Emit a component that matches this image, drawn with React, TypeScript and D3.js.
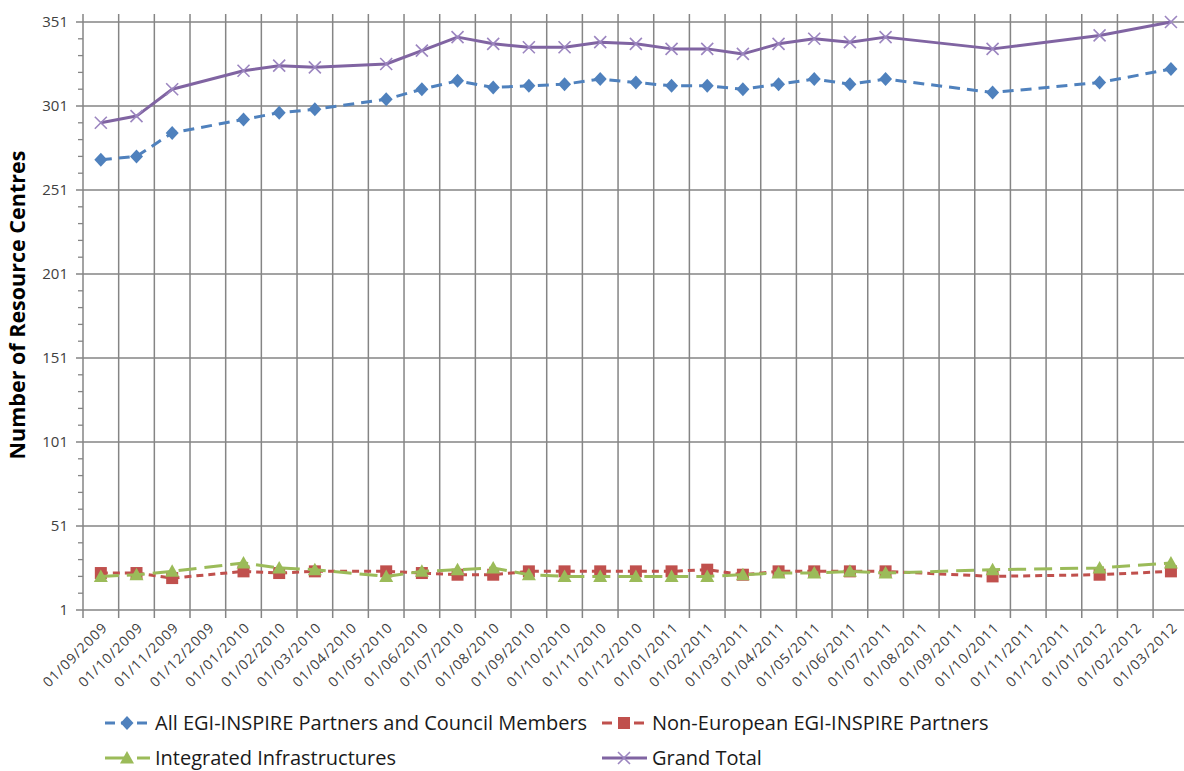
import React from "react";
import * as d3 from "d3";

// month categories along the x axis
const months = [
  "01/09/2009", "01/10/2009", "01/11/2009", "01/12/2009", "01/01/2010", "01/02/2010",
  "01/03/2010", "01/04/2010", "01/05/2010", "01/06/2010", "01/07/2010", "01/08/2010",
  "01/09/2010", "01/10/2010", "01/11/2010", "01/12/2010", "01/01/2011", "01/02/2011",
  "01/03/2011", "01/04/2011", "01/05/2011", "01/06/2011", "01/07/2011", "01/08/2011",
  "01/09/2011", "01/10/2011", "01/11/2011", "01/12/2011", "01/01/2012", "01/02/2012",
  "01/03/2012",
];

// months that actually have a measurement
const pointMonths = [
  "01/09/2009", "01/10/2009", "01/11/2009", "01/01/2010", "01/02/2010", "01/03/2010",
  "01/05/2010", "01/06/2010", "01/07/2010", "01/08/2010", "01/09/2010", "01/10/2010",
  "01/11/2010", "01/12/2010", "01/01/2011", "01/02/2011", "01/03/2011", "01/04/2011",
  "01/05/2011", "01/06/2011", "01/07/2011", "01/10/2011", "01/01/2012", "01/03/2012",
];

const allPartners = [269, 271, 285, 293, 297, 299, 305, 311, 316, 312, 313, 314, 317, 315, 313, 313, 311, 314, 317, 314, 317, 309, 315, 323];
const nonEuropean = [23, 23, 20, 24, 23, 24, 24, 23, 22, 22, 24, 24, 24, 24, 24, 25, 22, 24, 24, 24, 24, 21, 22, 24];
const integrated = [21, 22, 24, 29, 26, 25, 21, 24, 25, 26, 22, 21, 21, 21, 21, 21, 22, 23, 23, 24, 23, 25, 26, 29];
const grandTotal = [291, 295, 311, 322, 325, 324, 326, 334, 342, 338, 336, 336, 339, 338, 335, 335, 332, 338, 341, 339, 342, 335, 343, 351];

const yTicks = [1, 51, 101, 151, 201, 251, 301, 351];

const width = 1184;
const height = 771;
const margin = { top: 22, left: 83, bottom: 610 };
const band = 35.67;

const gridColor = "#858585";
const textColor = "#404040";
const font = "'Open Sans', 'Noto Sans', sans-serif";

type Series = {
  name: string;
  values: number[];
  color: string;
  dash: string;
  marker: "diamond" | "square" | "triangle" | "cross";
};

const series: Series[] = [
  { name: "Non-European EGI-INSPIRE Partners", values: nonEuropean, color: "#C0504D", dash: "7 5", marker: "square" },
  { name: "Integrated Infrastructures", values: integrated, color: "#9BBB59", dash: "18 8", marker: "triangle" },
  { name: "All EGI-INSPIRE Partners and Council Members", values: allPartners, color: "#4F81BD", dash: "11 7", marker: "diamond" },
  { name: "Grand Total", values: grandTotal, color: "#8064A2", dash: "", marker: "cross" },
];

// legend layout: [series index, column x, row y]
const legendSlots: [number, number, number][] = [
  [2, 105, 723],
  [0, 602, 723],
  [1, 105, 758],
  [3, 602, 758],
];

const Marker: React.FC<{ kind: Series["marker"]; x: number; y: number; color: string }> = ({ kind, x, y, color }) => {
  if (kind === "diamond") {
    return <path d={`M${x},${y - 7}L${x + 6.5},${y}L${x},${y + 7}L${x - 6.5},${y}Z`} fill={color} />;
  }
  if (kind === "square") {
    return <rect x={x - 6} y={y - 6} width={12} height={12} fill={color} />;
  }
  if (kind === "triangle") {
    return <path d={`M${x},${y - 7}L${x + 7},${y + 5.5}L${x - 7},${y + 5.5}Z`} fill={color} />;
  }
  return (
    <path
      d={`M${x - 6},${y - 6}L${x + 6},${y + 6}M${x - 6},${y + 6}L${x + 6},${y - 6}`}
      stroke="#9c86c0"
      strokeWidth={1.6}
      fill="none"
    />
  );
};

const App: React.FC = () => {
  const x = d3
    .scaleBand<string>()
    .domain(months)
    .range([margin.left, margin.left + band * months.length])
    .padding(0);

  const y = d3.scaleLinear().domain([1, 351]).range([margin.bottom, margin.top]);

  const cx = (m: string) => (x(m) as number) + x.bandwidth() / 2;

  const minorTicks = d3.range(1, 352, 10);

  const line = d3
    .line<number>()
    .x((_d, i) => cx(pointMonths[i]))
    .y((d) => y(d));

  return (
    <>
      <style>{`body{margin:0;background:#fff}`}</style>
      <svg width={width} height={height} style={{ display: "block" }} fontFamily={font}>
        <rect width={width} height={height} fill="#fff" />

        {/* horizontal gridlines + major ticks */}
        {yTicks.map((t) => (
          <g key={`h${t}`}>
            <line x1={margin.left - 7} x2={width} y1={y(t)} y2={y(t)} stroke={gridColor} strokeWidth={1.5} />
            <text x={68} y={y(t)} dy="0.35em" textAnchor="end" fontSize={15} fill={textColor}>
              {t}
            </text>
          </g>
        ))}

        {/* minor ticks on y axis */}
        {minorTicks
          .filter((t) => !yTicks.includes(t))
          .map((t) => (
            <line key={`m${t}`} x1={margin.left - 5} x2={margin.left} y1={y(t)} y2={y(t)} stroke={gridColor} strokeWidth={1.3} />
          ))}

        {/* vertical gridlines at category boundaries */}
        {months.map((m) => (
          <line
            key={`v${m}`}
            x1={x(m) as number}
            x2={x(m) as number}
            y1={margin.top - 8}
            y2={margin.bottom + 8}
            stroke={gridColor}
            strokeWidth={1.5}
          />
        ))}

        {/* x tick labels */}
        {months.map((m) => (
          <text
            key={`l${m}`}
            transform={`translate(${cx(m) + 4},${margin.bottom + 15}) rotate(-45)`}
            textAnchor="end"
            dy="0.35em"
            fontSize={14}
            letterSpacing={1}
            fill={textColor}
          >
            {m}
          </text>
        ))}

        {/* y axis title */}
        <text
          transform={`translate(25,305) rotate(-90)`}
          textAnchor="middle"
          fontSize={21.5}
          fontWeight="bold"
          fill="#000"
        >
          Number of Resource Centres
        </text>

        {/* series */}
        {series.map((s) => (
          <g key={s.name}>
            <path
              d={line(s.values) as string}
              fill="none"
              stroke={s.color}
              strokeWidth={3}
              strokeDasharray={s.dash || undefined}
              strokeLinejoin="round"
            />
            {s.values.map((v, i) => (
              <Marker key={i} kind={s.marker} x={cx(pointMonths[i])} y={y(v)} color={s.color} />
            ))}
          </g>
        ))}

        {/* legend */}
        {legendSlots.map(([si, lx, ly]) => {
          const s = series[si];
          return (
            <g key={`lg${s.name}`}>
              <line
                x1={lx}
                x2={lx + 45}
                y1={ly}
                y2={ly}
                stroke={s.color}
                strokeWidth={3}
                strokeDasharray={s.dash ? (s.marker === "triangle" ? "24 8" : "10 6") : undefined}
              />
              <Marker kind={s.marker} x={lx + 22} y={ly} color={s.color} />
              <text x={lx + 50} y={ly} dy="0.35em" fontSize={20} fill="#1a1a1a">
                {s.name}
              </text>
            </g>
          );
        })}
      </svg>
    </>
  );
};

export default App;
